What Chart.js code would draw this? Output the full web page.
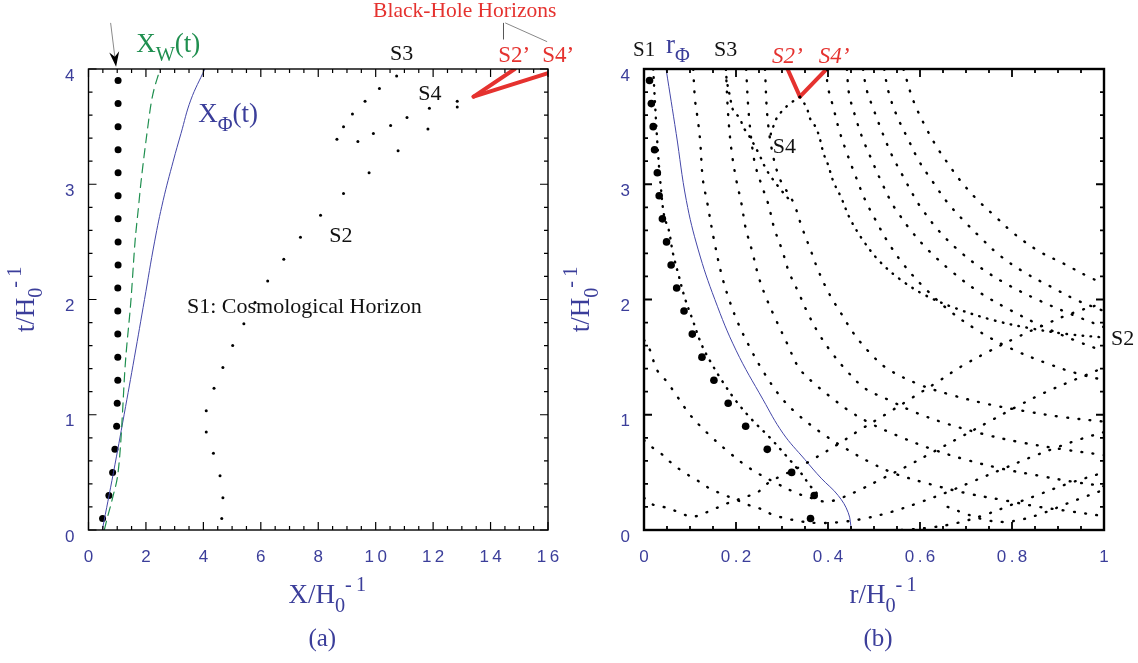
<!DOCTYPE html>
<html>
<head>
<meta charset="utf-8">
<script src="https://cdn.jsdelivr.net/npm/chart.js@4.4.1/dist/chart.umd.min.js"></script>
<style>
  html, body { margin: 0; padding: 0; background: #fff; }
  #wrap { position: relative; width: 1138px; height: 663px; overflow: hidden; }
  canvas { position: absolute; top: 0; }
  #panel-a { left: 0; }
  #panel-b { left: 540px; }
</style>
</head>
<body>
<div id="wrap">
  <canvas id="panel-a" width="600" height="663"></canvas>
  <canvas id="panel-b" width="598" height="663"></canvas>
</div>
<script>
const BLUE = "#3b3e9a";
const LINE_BLUE = "#4447a8";
const GREEN = "#1f8f4f";
const RED = "#e5322f";
const INK = "#111";
const SERIF = "'Liberation Serif', 'Times New Roman', serif";
const SANS = "'Liberation Sans', Arial, sans-serif";

// tick labels
const xTicksA = ["0", "2", "4", "6", "8", "1\u20090", "1\u20092", "1\u20094", "1\u20096"];
const xTicksB = ["0", "0\u2009.\u20092", "0\u2009.\u20094", "0\u2009.\u20096", "0\u2009.\u20098", "1"];
const yTicks = ["0", "1", "2", "3", "4"];

// big dots (same times in both panels)
const bigDotT = [0.1, 0.3, 0.5, 0.7, 0.9, 1.1, 1.3, 1.5, 1.7, 1.9, 2.1, 2.3, 2.5, 2.7, 2.9, 3.1, 3.3, 3.5, 3.7, 3.9];
const bigDotX = [0.49, 0.71, 0.84, 0.92, 0.98, 1.0, 1.02, 1.02, 1.02, 1.02, 1.02, 1.03, 1.03, 1.03, 1.03, 1.03, 1.03, 1.03, 1.03, 1.03];
const bigDotR = [0.362, 0.37, 0.321, 0.268, 0.221, 0.183, 0.152, 0.126, 0.105, 0.087, 0.071, 0.059, 0.049, 0.04, 0.033, 0.029, 0.023, 0.02, 0.016, 0.012];

// panel (a): X_W(t) and X_Phi(t)
const xwT = [0, 0.1, 0.3, 0.5, 0.75, 1.0, 1.4, 2.0, 2.5, 2.8, 3.0, 3.45, 3.73, 4.0];
const xwX = [0.55, 0.65, 0.86, 1.03, 1.12, 1.18, 1.27, 1.48, 1.62, 1.74, 1.82, 2.04, 2.2, 2.49];
const xphiT = [0, 0.5, 1.0, 1.5, 2.0, 2.5, 2.86, 3.2, 3.44, 3.73, 4.0];
const xphiX = [0.48, 0.87, 1.24, 1.6, 1.95, 2.3, 2.6, 2.95, 3.22, 3.56, 4.05];

// panel (a): horizon dots [X, t]
const horizonS1 = [[4.64, 0.1], [4.68, 0.28], [4.58, 0.47], [4.35, 0.665], [4.1, 0.85], [4.1, 1.035], [4.37, 1.23], [4.68, 1.41], [5.02, 1.6], [5.41, 1.79], [5.8, 1.975], [6.24, 2.16], [6.8, 2.35], [7.38, 2.54], [8.08, 2.73], [8.88, 2.92], [9.77, 3.1], [10.78, 3.29], [11.82, 3.48], [12.84, 3.67]];
const horizonS3 = [[8.65, 3.39], [8.88, 3.5], [9.19, 3.61], [9.63, 3.72], [10.13, 3.83], [10.73, 3.94]];
const horizonS4 = [[9.38, 3.37], [9.92, 3.44], [10.52, 3.51], [11.09, 3.58], [11.87, 3.66], [12.84, 3.72]];
const blackHoleS2a = [[13.41, 3.76], [14.84, 4.0]];
const blackHoleS4a = [[13.41, 3.76], [16.0, 3.965]];

// panel (b): r_Phi
const rphiT = [0, 0.15, 0.3, 0.45, 0.61, 0.84, 1.13, 1.56, 2.0, 2.43, 2.86, 3.44, 4.0];
const rphiR = [0.451, 0.444, 0.422, 0.385, 0.35, 0.302, 0.259, 0.2, 0.154, 0.118, 0.092, 0.07, 0.048];

// panel (b): dotted rays [r, t]
const rayU1 = [[0.107, 4.0], [0.111, 3.73], [0.117, 3.56], [0.122, 3.38], [0.128, 3.04], [0.138, 2.83], [0.152, 2.52], [0.169, 2.21], [0.185, 2.0], [0.205, 1.79], [0.228, 1.6], [0.254, 1.41], [0.296, 1.16], [0.335, 1.0], [0.383, 0.85], [0.433, 0.72], [0.49, 0.59], [0.545, 0.49], [0.62, 0.4], [0.7, 0.32], [0.78, 0.26], [0.86, 0.2], [0.93, 0.16], [1.0, 0.12]];
const rayU2 = [[0.178, 4.0], [0.183, 3.6], [0.19, 3.3], [0.2, 3.05], [0.212, 2.83], [0.221, 2.62], [0.235, 2.42], [0.249, 2.2], [0.265, 2.02], [0.285, 1.84], [0.311, 1.62], [0.338, 1.4], [0.379, 1.24], [0.404, 1.16], [0.44, 1.05], [0.49, 0.93], [0.55, 0.82], [0.62, 0.71], [0.7, 0.61], [0.78, 0.53], [0.86, 0.47], [0.93, 0.42], [1.0, 0.38]];
const rayU3 = [[0.222, 4.0], [0.228, 3.6], [0.24, 3.2], [0.255, 3.0], [0.27, 2.83], [0.283, 2.62], [0.301, 2.42], [0.315, 2.24], [0.336, 2.06], [0.355, 1.89], [0.379, 1.71], [0.406, 1.55], [0.441, 1.38], [0.48, 1.23], [0.531, 1.13], [0.59, 1.02], [0.66, 0.92], [0.74, 0.83], [0.82, 0.76], [0.91, 0.7], [1.0, 0.65]];
const rayU4 = [[0.263, 4.0], [0.268, 3.6], [0.278, 3.3], [0.295, 3.05], [0.325, 2.84], [0.343, 2.63], [0.363, 2.42], [0.38, 2.24], [0.404, 2.04], [0.43, 1.87], [0.455, 1.71], [0.488, 1.55], [0.529, 1.4], [0.6, 1.26], [0.67, 1.17], [0.75, 1.09], [0.83, 1.03], [0.91, 0.98], [1.0, 0.94]];
const rayU5 = [[0.398, 4.0], [0.399, 3.86], [0.412, 3.66], [0.425, 3.46], [0.442, 3.26], [0.46, 3.07], [0.48, 2.87], [0.502, 2.7], [0.53, 2.5], [0.565, 2.3], [0.61, 2.1], [0.665, 1.9], [0.73, 1.72], [0.8, 1.57], [0.88, 1.44], [0.94, 1.36], [1.0, 1.3]];
const rayU6 = [[0.441, 4.0], [0.446, 3.78], [0.46, 3.58], [0.474, 3.41], [0.493, 3.23], [0.515, 3.03], [0.538, 2.84], [0.551, 2.76], [0.58, 2.6], [0.62, 2.42], [0.67, 2.24], [0.73, 2.06], [0.8, 1.9], [0.87, 1.76], [0.94, 1.64], [1.0, 1.55]];
const rayU7 = [[0.476, 4.0], [0.484, 3.82], [0.5, 3.64], [0.518, 3.45], [0.538, 3.26], [0.563, 3.07], [0.592, 2.86], [0.607, 2.77], [0.64, 2.6], [0.68, 2.44], [0.73, 2.28], [0.79, 2.13], [0.86, 1.99], [0.93, 1.87], [1.0, 1.76]];
const rayU8 = [[0.522, 4.0], [0.531, 3.81], [0.549, 3.6], [0.573, 3.4], [0.598, 3.2], [0.628, 3.02], [0.66, 2.84], [0.696, 2.68], [0.731, 2.54], [0.771, 2.39], [0.825, 2.24], [0.885, 2.11], [0.943, 1.99], [1.0, 1.9]];
const rayU9 = [[0.564, 4.0], [0.586, 3.72], [0.613, 3.49], [0.637, 3.32], [0.659, 3.19], [0.686, 3.04], [0.721, 2.88], [0.761, 2.73], [0.805, 2.57], [0.858, 2.42], [0.913, 2.31], [0.97, 2.19], [1.0, 2.14]];
const rayVA = [[0.0, 1.65], [0.013, 1.56], [0.028, 1.39], [0.049, 1.29], [0.072, 1.16], [0.1, 1.0], [0.138, 0.84], [0.183, 0.68], [0.23, 0.535], [0.281, 0.42], [0.332, 0.32], [0.37, 0.27], [0.397, 0.245], [0.43, 0.28], [0.47, 0.35], [0.52, 0.45], [0.57, 0.55], [0.63, 0.68], [0.69, 0.81], [0.75, 0.94], [0.81, 1.07], [0.87, 1.19], [0.94, 1.31], [1.0, 1.41]];
const rayVB = [[0.0, 0.78], [0.006, 0.75], [0.035, 0.67], [0.06, 0.58], [0.087, 0.5], [0.114, 0.435], [0.143, 0.36], [0.171, 0.31], [0.202, 0.26], [0.227, 0.217], [0.256, 0.18], [0.281, 0.13], [0.31, 0.1], [0.34, 0.075], [0.38, 0.06], [0.43, 0.07], [0.48, 0.1], [0.54, 0.16], [0.6, 0.24], [0.66, 0.33], [0.72, 0.43], [0.78, 0.53], [0.84, 0.63], [0.9, 0.72], [0.95, 0.79], [1.0, 0.85]];
const rayVC = [[0.0, 0.28], [0.013, 0.23], [0.052, 0.19], [0.078, 0.15], [0.105, 0.115], [0.14, 0.16], [0.18, 0.23], [0.223, 0.29], [0.248, 0.33], [0.267, 0.4], [0.292, 0.457], [0.33, 0.53], [0.37, 0.62], [0.42, 0.74], [0.47, 0.87], [0.524, 1.0], [0.58, 1.14], [0.64, 1.29], [0.69, 1.42], [0.75, 1.55], [0.81, 1.67], [0.87, 1.78], [0.93, 1.88], [1.0, 1.97]];
const rayVD = [[0.56, 0.0], [0.62, 0.02], [0.68, 0.06], [0.74, 0.13], [0.8, 0.22], [0.86, 0.31], [0.92, 0.4], [1.0, 0.5]];
const rayVF = [[0.66, 0.2], [0.7, 0.14], [0.74, 0.09], [0.78, 0.07], [0.82, 0.09], [0.87, 0.15], [0.92, 0.23], [0.96, 0.29], [1.0, 0.35]];
const horizonS1b = [[0.02, 4.0], [0.024, 3.7], [0.03, 3.3], [0.036, 3.0], [0.044, 2.72], [0.054, 2.6], [0.063, 2.4], [0.076, 2.2], [0.089, 2.01], [0.106, 1.82], [0.125, 1.61], [0.146, 1.45], [0.172, 1.28], [0.2, 1.12], [0.234, 0.96], [0.274, 0.8], [0.31, 0.64], [0.34, 0.5], [0.362, 0.38], [0.38, 0.3]];
const horizonS2b = [[0.339, 3.76], [0.354, 3.66], [0.361, 3.57], [0.374, 3.49], [0.384, 3.37], [0.39, 3.27], [0.4, 3.17], [0.412, 3.02], [0.428, 2.89], [0.448, 2.7], [0.475, 2.52], [0.51, 2.34], [0.555, 2.18], [0.61, 2.04], [0.68, 1.92], [0.76, 1.82], [0.84, 1.75], [0.92, 1.7], [1.0, 1.67]];
const horizonS3b = [[0.178, 4.0], [0.18, 3.9], [0.187, 3.76], [0.194, 3.64], [0.209, 3.57], [0.215, 3.5], [0.227, 3.43], [0.249, 3.27], [0.267, 3.12], [0.292, 2.98], [0.317, 2.86]];
const horizonS4b = [[0.339, 3.76], [0.324, 3.72], [0.314, 3.69], [0.299, 3.63], [0.288, 3.57], [0.281, 3.5], [0.276, 3.44], [0.272, 3.38]];
const blackHoleS2b = [[0.312, 4.0], [0.339, 3.76]];
const blackHoleS4b = [[0.339, 3.76], [0.397, 4.0]];

const pairs = (arr) => arr.map(([x, y]) => ({ x, y }));
const zip = (xs, ys) => xs.map((x, i) => ({ x, y: ys[i] }));

function lineSet(data, color, width, dash, extra = {}) {
  return Object.assign({
    data,
    showLine: true,
    pointRadius: 0,
    borderColor: color,
    borderWidth: width,
    borderDash: dash,
    borderCapStyle: dash.length ? "round" : "butt",
    tension: 0.35,
    fill: false,
    clip: 0,
  }, extra);
}

function dotSet(data, radius) {
  return {
    data,
    showLine: false,
    pointRadius: radius,
    pointBackgroundColor: "#000",
    pointBorderWidth: 0,
    clip: false,
  };
}

function richWidth(ctx, parts, size, style) {
  let w = 0;
  for (const [txt, mode] of parts) {
    ctx.font = `${style}${mode ? size * 0.75 : size}px ${SERIF}`;
    w += ctx.measureText(txt).width;
  }
  return w;
}

function drawRich(ctx, x, y, parts, size, color, opts = {}) {
  const style = opts.italic ? "italic " : "";
  ctx.save();
  ctx.fillStyle = color;
  ctx.textBaseline = "alphabetic";
  ctx.textAlign = "left";
  let cx = opts.center ? x - richWidth(ctx, parts, size, style) / 2 : x;
  for (const [txt, mode] of parts) {
    const s = mode ? size * 0.75 : size;
    const dy = mode === "sub" ? size * 0.32 : mode === "sup" ? -size * 0.45 : 0;
    ctx.font = `${style}${s}px ${SERIF}`;
    ctx.fillText(txt, cx, y + dy);
    cx += ctx.measureText(txt).width;
  }
  ctx.restore();
}

// frame, inward ticks on all sides, labels and titles
function decorPlugin(cfg) {
  return {
    id: "decor",
    afterDatasetsDraw(chart) {
      const { ctx, chartArea: a, scales: { x, y } } = chart;
      ctx.save();
      ctx.strokeStyle = "#000";
      ctx.lineWidth = cfg.frameWidth;
      ctx.strokeRect(a.left, a.top, a.right - a.left, a.bottom - a.top);
      ctx.lineWidth = cfg.tickWidth;
      ctx.beginPath();
      const nx = Math.round((x.max - x.min) / cfg.xMinor);
      for (let i = 0; i <= nx; i++) {
        const px = x.getPixelForValue(x.min + i * cfg.xMinor);
        const len = i % cfg.xEvery === 0 ? cfg.major : cfg.minor;
        ctx.moveTo(px, a.bottom); ctx.lineTo(px, a.bottom - len);
        ctx.moveTo(px, a.top); ctx.lineTo(px, a.top + len);
      }
      const ny = Math.round((y.max - y.min) / cfg.yMinor);
      for (let i = 0; i <= ny; i++) {
        const py = y.getPixelForValue(y.min + i * cfg.yMinor);
        const len = i % cfg.yEvery === 0 ? cfg.major : cfg.minor;
        ctx.moveTo(a.left, py); ctx.lineTo(a.left + len, py);
        ctx.moveTo(a.right, py); ctx.lineTo(a.right - len, py);
      }
      ctx.stroke();

      for (const seg of cfg.segments || []) {
        ctx.strokeStyle = seg.color;
        ctx.lineWidth = seg.width;
        ctx.beginPath();
        ctx.moveTo(x.getPixelForValue(seg.from[0]), y.getPixelForValue(seg.from[1]));
        ctx.lineTo(x.getPixelForValue(seg.to[0]), y.getPixelForValue(seg.to[1]));
        ctx.stroke();
      }
      if (cfg.arrow) {
        const x0 = x.getPixelForValue(cfg.arrow.from[0]), y0 = y.getPixelForValue(cfg.arrow.from[1]);
        const x1 = x.getPixelForValue(cfg.arrow.to[0]), y1 = y.getPixelForValue(cfg.arrow.to[1]);
        const ang = Math.atan2(y1 - y0, x1 - x0);
        ctx.strokeStyle = "#8a8a8a";
        ctx.lineWidth = 1;
        ctx.beginPath();
        ctx.moveTo(x0, y0);
        ctx.lineTo(x1 - 8 * Math.cos(ang), y1 - 8 * Math.sin(ang));
        ctx.stroke();
        ctx.save();
        ctx.translate(x1, y1);
        ctx.rotate(ang);
        ctx.fillStyle = "#000";
        ctx.beginPath();
        ctx.moveTo(0, 0);
        ctx.lineTo(-15, -5);
        ctx.lineTo(-10, 0);
        ctx.lineTo(-15, 5);
        ctx.closePath();
        ctx.fill();
        ctx.restore();
      }
      for (const n of cfg.notes) {
        drawRich(ctx, x.getPixelForValue(n.x), y.getPixelForValue(n.y), n.parts, n.size, n.color || INK, { italic: n.italic });
      }
      const cx = (a.left + a.right) / 2;
      drawRich(ctx, cx + 9, 603, cfg.xTitle, 27, BLUE, { center: true });
      drawRich(ctx, cx + 4, 646, cfg.caption, 25, BLUE, { center: true });
      ctx.save();
      ctx.translate(a.left - 55, (a.top + a.bottom) / 2);
      ctx.rotate(-Math.PI / 2);
      drawRich(ctx, 0, 0, cfg.yTitle, 27, BLUE, { center: true });
      ctx.restore();
      ctx.restore();
    },
  };
}

function baseOptions(xMin, xMax, xStep, xLabels, yAxisWidth, padRight) {
  return {
    responsive: false,
    animation: false,
    events: [],
    layout: { padding: { top: 69, right: padRight, left: 0, bottom: 0 } },
    plugins: { legend: { display: false }, tooltip: { enabled: false } },
    scales: {
      x: {
        type: "linear", min: xMin, max: xMax, position: "bottom",
        grid: { display: false, drawTicks: false }, border: { display: false },
        ticks: {
          stepSize: xStep, padding: 17, color: BLUE, autoSkip: false, maxRotation: 0,
          font: { family: SANS, size: 17 },
          callback: (v, i) => xLabels[i],
        },
        afterFit(scale) { scale.height = 133; },
      },
      y: {
        type: "linear", min: 0, max: 4, position: "left",
        grid: { display: false, drawTicks: false }, border: { display: false },
        ticks: {
          stepSize: 1, padding: 14, labelOffset: 7, color: BLUE, autoSkip: false,
          font: { family: SANS, size: 17 },
          callback: (v, i) => yTicks[i],
        },
        afterFit(scale) { scale.width = yAxisWidth; },
      },
    },
  };
}

function renderPanelA() {
  const options = baseOptions(0, 16, 2, xTicksA, 88.5, 52);
  new Chart(document.getElementById("panel-a"), {
    type: "scatter",
    data: {
      datasets: [
        lineSet(zip(xwX, xwT), GREEN, 1.2, [9, 6], { cubicInterpolationMode: "monotone" }),
        lineSet(zip(xphiX, xphiT), LINE_BLUE, 1, [], { tension: 0.4 }),
        dotSet(pairs(horizonS1), 1.5),
        dotSet(pairs(horizonS3), 1.5),
        dotSet(pairs(horizonS4), 1.5),
        dotSet(zip(bigDotX, bigDotT), 3.5),
        lineSet(pairs(blackHoleS2a), RED, 4, [], { tension: 0, borderCapStyle: "round" }),
        lineSet(pairs(blackHoleS4a), RED, 4, [], { tension: 0, borderCapStyle: "round" }),
      ],
    },
    options,
    plugins: [decorPlugin({
      frameWidth: 1.4, tickWidth: 1.2, major: 8, minor: 4,
      xMinor: 0.5, xEvery: 4, yMinor: 0.2, yEvery: 5,
      xTitle: [["X/H"], ["0", "sub"], ["-\u20091", "sup"]],
      yTitle: [["t/H"], ["0", "sub"], ["-\u20091", "sup"]],
      caption: [["(a)"]],
      arrow: { from: [0.77, 4.4], to: [0.96, 4.02] },
      segments: [
        { from: [14.45, 4.4], to: [14.45, 4.256], color: "#555", width: 1 },
        { from: [14.51, 4.4], to: [15.97, 4.237], color: "#888", width: 1 },
      ],
      notes: [
        { x: 1.66, y: 4.148, parts: [["X"], ["W", "sub"], ["(t)"]], size: 27, color: GREEN },
        { x: 3.82, y: 3.54, parts: [["X"], ["\u03a6", "sub"], ["(t)"]], size: 27, color: BLUE },
        { x: 10.5, y: 4.08, parts: [["S3"]], size: 22 },
        { x: 11.48, y: 3.73, parts: [["S4"]], size: 22 },
        { x: 8.38, y: 2.5, parts: [["S2"]], size: 22 },
        { x: 3.43, y: 1.885, parts: [["S1: Cosmological Horizon"]], size: 22 },
        { x: 9.91, y: 4.451, parts: [["Black-Hole Horizons"]], size: 21.5, color: RED },
        { x: 14.27, y: 4.06, parts: [["S2\u2019"]], size: 23, color: RED },
        { x: 15.8, y: 4.06, parts: [["S4\u2019"]], size: 23, color: RED },
      ],
    })],
  });
}

function renderPanelB() {
  const options = baseOptions(0, 1, 0.2, xTicksB, 104, 34);
  const upper = [rayU1, rayU2, rayU3, rayU4, rayU5, rayU6, rayU7, rayU8, rayU9];
  const lower = [rayVA, rayVB, rayVC, rayVD, rayVF];
  const datasets = [];
  upper.concat(lower).forEach((ray) => datasets.push(lineSet(pairs(ray), "#000", 2.4, [0.8, 10.5])));
  [horizonS1b, horizonS2b, horizonS3b, horizonS4b].forEach((ray) => datasets.push(lineSet(pairs(ray), "#000", 2.4, [0.6, 7.5])));
  datasets.push(lineSet(zip(rphiR, rphiT), LINE_BLUE, 1, [], { tension: 0.4 }));
  datasets.push(dotSet(zip(bigDotR, bigDotT), 3.8));
  datasets.push(lineSet(pairs(blackHoleS2b), RED, 4, [], { tension: 0, borderCapStyle: "round" }));
  datasets.push(lineSet(pairs(blackHoleS4b), RED, 4, [], { tension: 0, borderCapStyle: "round" }));

  new Chart(document.getElementById("panel-b"), {
    type: "scatter",
    data: { datasets },
    options,
    plugins: [decorPlugin({
      frameWidth: 2.4, tickWidth: 1.8, major: 8, minor: 4,
      xMinor: 0.05, xEvery: 4, yMinor: 0.2, yEvery: 5,
      xTitle: [["r/H"], ["0", "sub"], ["-\u20091", "sup"]],
      yTitle: [["t/H"], ["0", "sub"], ["-\u20091", "sup"]],
      caption: [["(b)"]],
      notes: [
        { x: -0.024, y: 4.11, parts: [["S1"]], size: 21 },
        { x: 0.048, y: 4.14, parts: [["r"], ["\u03a6", "sub"]], size: 27, color: BLUE },
        { x: 0.152, y: 4.11, parts: [["S3"]], size: 22 },
        { x: 0.278, y: 4.05, parts: [["S2\u2019"]], size: 23, color: RED, italic: true },
        { x: 0.38, y: 4.05, parts: [["S4\u2019"]], size: 23, color: RED, italic: true },
        { x: 0.28, y: 3.27, parts: [["S4"]], size: 22 },
        { x: 1.015, y: 1.605, parts: [["S2"]], size: 22 },
      ],
    })],
  });
}

window.addEventListener("DOMContentLoaded", () => {
  renderPanelA();
  renderPanelB();
});
</script>
</body>
</html>
